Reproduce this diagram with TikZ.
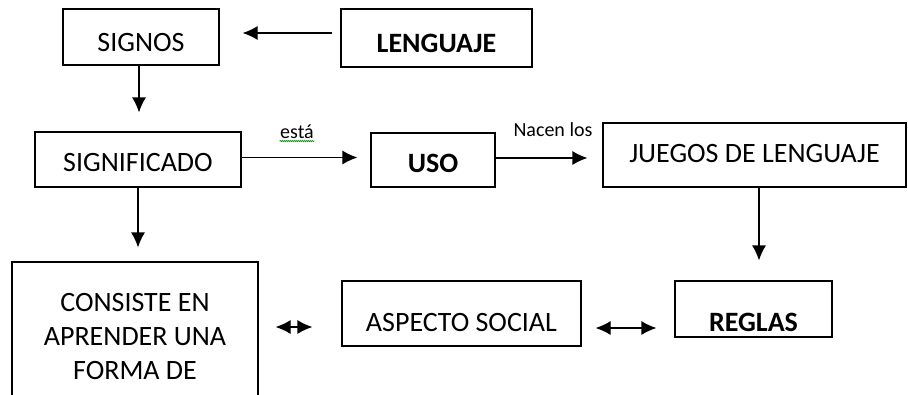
\documentclass[tikz,border=0pt]{standalone}
\usepackage{fontspec}
\setmainfont{Carlito}
\usetikzlibrary{arrows.meta,decorations.pathmorphing}
\tikzset{>={Latex[length=15pt,width=14pt]}}
\tikzset{box/.style={draw, line width=1.2pt, inner sep=0pt, font=\fontsize{28}{34}\selectfont},
  lowtext/.style={text height=#1, text depth=2pt},
  lbl/.style={inner sep=0pt, font=\fontsize{20}{24}\selectfont}}

\begin{document}
\begin{tikzpicture}[x=1pt, y=-1pt, line width=1.2pt]
\clip (0,0) rectangle (908,394);
% top row
\node[box, lowtext=30pt, minimum width=156pt, minimum height=56pt] (signos) at (141,37) {SIGNOS};
\node[box, lowtext=30pt, minimum width=191pt, minimum height=58pt, font=\fontsize{28}{34}\selectfont\bfseries] (lenguaje) at (436.5,38) {LENGUAJE};
% middle row
\node[box, lowtext=25pt, minimum width=206pt, minimum height=55pt] (significado) at (138,159.5) {SIGNIFICADO};
\node[box, lowtext=26pt, minimum width=124pt, minimum height=54pt, font=\fontsize{28}{34}\selectfont\bfseries] (uso) at (433,160) {USO};
\node[box, lowtext=16pt, minimum width=303pt, minimum height=64pt] (juegos) at (754.5,155) {JUEGOS DE LENGUAJE};
% bottom row
\node[box, align=center, minimum width=246pt, minimum height=150pt] (consiste) at (135,337) {CONSISTE EN\\APRENDER UNA\\FORMA DE};
\node[box, lowtext=37pt, minimum width=239pt, minimum height=65pt] (aspecto) at (461.5,313.5) {ASPECTO SOCIAL};
\node[box, lowtext=46pt, minimum width=157pt, minimum height=56pt, font=\fontsize{28}{34}\selectfont\bfseries] (reglas) at (753.5,309) {REGLAS};
% arrows
\draw[->, shorten <=8pt, shorten >=23pt] ([yshift=5pt]lenguaje.west) -- ([yshift=5pt]lenguaje.west -| signos.east);
\draw[->, shorten >=19pt] ([xshift=-2pt]signos.south) -- ([xshift=-2pt]signos.south |- significado.north);
\draw[->, shorten >=13pt] ([yshift=2pt]significado.east) -- ([yshift=2pt]significado.east -| uso.west)
  node[lbl, midway, xshift=-9pt, yshift=26pt] (esta) {está};
\draw[->, shorten >=15pt] ([yshift=2pt]uso.east) -- ([yshift=2pt]uso.east -| juegos.west)
  node[lbl, midway, xshift=4pt, yshift=28pt] (nacen) {Nacen los};
\draw[->, shorten >=14pt] (significado.south) -- (significado.south |- consiste.north);
\draw[->, shorten >=20pt] ([xshift=4.5pt]juegos.south) -- ([xshift=4.5pt]juegos.south |- reglas.north);
\draw[<->, shorten <=17pt, shorten >=29pt] ([yshift=10pt]consiste.east) -- ([yshift=10pt]consiste.east -| aspecto.west);
\draw[<->, shorten <=14pt, shorten >=18pt] ([yshift=-14.5pt]aspecto.east) -- ([yshift=-14.5pt]aspecto.east -| reglas.west);
% spell check mark
\draw[green!55!black, line width=0.6pt, decorate, decoration={snake, amplitude=0.7pt, segment length=2pt}]
  ([yshift=-2pt]esta.south west) -- ([yshift=-2pt]esta.south east);
\end{tikzpicture}
\end{document}
